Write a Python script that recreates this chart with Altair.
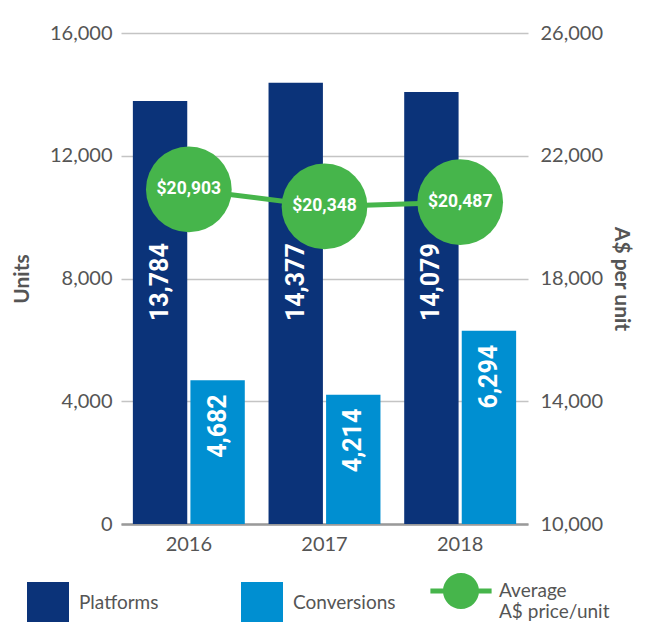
import altair as alt
import pandas as pd

years = ["2016", "2017", "2018"]
platforms = [13784, 14377, 14079]
conversions = [4682, 4214, 6294]
avg_price = [20903, 20348, 20487]

series_names = ["Platforms", "Conversions"]
price_name = "Average A$ price/unit"

navy = "#0b3379"
blue = "#008fd1"
green = "#46b54b"
gray = "#555555"
FONT = "Lato"

bars_df = pd.DataFrame({
    "year": years * 2,
    "series": ["Platforms"] * 3 + ["Conversions"] * 3,
    "units": platforms + conversions,
})
plat_df = bars_df[bars_df.series == "Platforms"]
conv_df = bars_df[bars_df.series == "Conversions"]
price_df = pd.DataFrame({"year": years, "price": avg_price, "name": [price_name] * 3})

x_enc = alt.X("year:N", title=None, sort=years,
              scale=alt.Scale(paddingInner=0.175, paddingOuter=0.0875),
              axis=alt.Axis(labelFontSize=20, labelColor=gray, labelFont=FONT, labelPadding=10,
                            ticks=False, domainColor="#9a9a9a", domainWidth=2.5, labelAngle=0,
                            grid=False))
xoff = alt.XOffset("series:N", sort=series_names, scale=alt.Scale(paddingInner=0.055, paddingOuter=0))

left_axis = alt.Axis(values=[0, 4000, 8000, 12000, 16000], labelExpr="format(datum.value, ',')",
                     grid=True, gridColor="#c4c4c4", gridWidth=1.5, ticks=False, domain=False,
                     labelFontSize=20, labelColor=gray, labelFont=FONT, labelPadding=9,
                     title="Units", titleFontSize=21, titleFont=FONT, titleFontWeight="bold",
                     titleColor=gray, titlePadding=17)
left_scale = alt.Scale(domain=[0, 16000], nice=False)

bars = alt.Chart(bars_df).mark_bar().encode(
    x=x_enc,
    xOffset=xoff,
    y=alt.Y("units:Q", scale=left_scale, axis=left_axis),
    color=alt.Color("series:N", sort=series_names,
                    scale=alt.Scale(domain=series_names, range=[navy, blue]),
                    legend=alt.Legend(orient="none", legendX=-94, legendY=549, direction="horizontal",
                                      columns=2, symbolType="square", symbolSize=1764,
                                      symbolStrokeWidth=0, labelFontSize=19, labelFont=FONT,
                                      labelColor=gray, labelOffset=10, columnPadding=82,
                                      title=None, padding=0)),
)

plat_text = alt.Chart(plat_df).transform_calculate(
    lbl_pos="9150"
).mark_text(
    angle=270, align="right", baseline="middle", fontSize=25, fontWeight="bold",
    font="Roboto", color="white"
).encode(
    x=alt.X("year:N", sort=years),
    xOffset=xoff,
    y=alt.Y("lbl_pos:Q", scale=left_scale, axis=left_axis),
    text=alt.Text("units:Q", format=","),
)

conv_text = alt.Chart(conv_df).mark_text(
    angle=270, align="right", baseline="middle", fontSize=25, fontWeight="bold",
    font="Roboto", color="white", dx=-14
).encode(
    x=alt.X("year:N", sort=years),
    xOffset=xoff,
    y=alt.Y("units:Q", scale=left_scale, axis=left_axis),
    text=alt.Text("units:Q", format=","),
)

left_layer = alt.layer(bars, plat_text, conv_text)

right_axis = alt.Axis(orient="right", values=[10000, 14000, 18000, 22000, 26000],
                      labelExpr="format(datum.value, ',')",
                      grid=False, ticks=False, domain=False, labelFontSize=20, labelColor=gray,
                      labelFont=FONT, labelPadding=12, title="A$ per unit", titleFontSize=21,
                      titleFont=FONT, titleFontWeight="bold", titleColor=gray, titlePadding=8)
right_scale = alt.Scale(domain=[10000, 26000], nice=False)
y_right = alt.Y("price:Q", scale=right_scale, axis=right_axis)

line = alt.Chart(price_df).mark_line(color=green, strokeWidth=5).encode(
    x=alt.X("year:N", sort=years), y=y_right)

legend_path = ("M-1.7,-0.14L1.7,-0.14L1.7,0.14L-1.7,0.14Z "
               "M1,0A1,1,0,1,1,-1,0A1,1,0,1,1,1,0Z")

points = alt.Chart(price_df).mark_circle(size=7350, opacity=1).encode(
    x=alt.X("year:N", sort=years), y=y_right,
    fill=alt.Fill("name:N", scale=alt.Scale(domain=[price_name], range=[green]),
                  legend=alt.Legend(orient="none", legendX=322, legendY=540,
                                    symbolType=legend_path, symbolSize=1296, symbolStrokeWidth=0,
                                    labelOffset=20, labelFontSize=19, labelFont=FONT,
                                    labelColor=gray, title=None, padding=0,
                                    labelExpr="['Average', 'A$ price/unit']")),
)

pt_text = alt.Chart(price_df).mark_text(
    fontSize=17.5, fontWeight="bold", font="Roboto", color="white", baseline="middle"
).encode(
    x=alt.X("year:N", sort=years), y=y_right,
    text=alt.Text("price:Q", format="$,"),
)

right_layer = alt.layer(line, points, pt_text)

chart = alt.layer(left_layer, right_layer).resolve_scale(
    y="independent", color="independent", fill="independent"
).properties(
    width=407, height=491,
    autosize=alt.AutoSizeParams(type="none"),
    padding={"left": 113, "top": 25, "right": 111, "bottom": 100},
).configure_view(stroke=None)

chart.save("out.html", embed_options={"renderer": "svg", "actions": False})
